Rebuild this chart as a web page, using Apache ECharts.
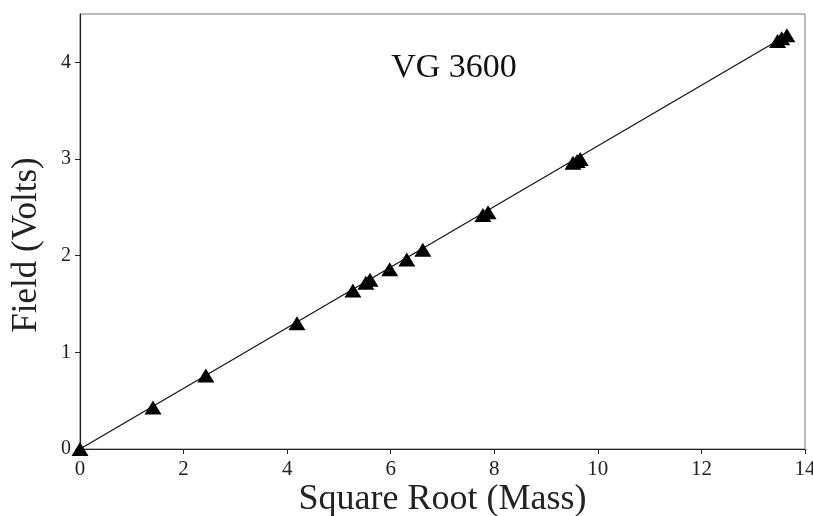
<!DOCTYPE html>
<html><head><meta charset="utf-8">
<script src="https://cdn.jsdelivr.net/npm/echarts@6/dist/echarts.min.js"></script>
<style>html,body{margin:0;padding:0;background:#fff}#c{width:813px;height:516px}</style>
</head><body><div id="c"></div>
<script>
// Measured points: square root of mass vs field (volts)
const sqrtMass = [0, 1.41, 2.43, 4.19, 5.27, 5.52, 5.60, 5.98, 6.31, 6.62, 7.78, 7.88, 9.52, 9.60, 9.66, 13.47, 13.55, 13.65];
const fieldVolts = [0, 0.43, 0.76, 1.30, 1.64, 1.72, 1.75, 1.86, 1.96, 2.06, 2.42, 2.45, 2.96, 2.98, 3.00, 4.22, 4.25, 4.28];
// Fitted calibration line end points
const fitX = [0, 13.65];
const fitY = [0, 4.28];
const xTicks = [0, 2, 4, 6, 8, 10, 12, 14];
const yTicks = [0, 1, 2, 3, 4];
const titleText = 'VG 3600';
const xTitle = 'Square Root (Mass)';
const yTitle = 'Field (Volts)';

const pts = sqrtMass.map((x, i) => [x, fieldVolts[i]]);
const fit = fitX.map((x, i) => [x, fitY[i]]);
const serif = '"Liberation Serif", "DejaVu Serif", serif';
const chart = echarts.init(document.getElementById('c'));
chart.setOption({
  animation: false,
  backgroundColor: '#fff',
  grid: {left: 80, right: 8, top: 14, bottom: 67, show: true, borderColor: '#777', borderWidth: 1,
    containLabel: false, outerBoundsMode: 'none'},
  title: {text: titleText, left: 449, top: 46, textAlign: 'center',
    textStyle: {fontFamily: serif, fontSize: 34, fontWeight: 'normal', color: '#111'}},
  graphic: [{
    type: 'text', x: 27, y: 245, rotation: Math.PI / 2,
    style: {text: yTitle, font: '35px "Liberation Serif", serif', fill: '#222',
      textAlign: 'center', textVerticalAlign: 'middle'}
  }],
  xAxis: {
    type: 'value', min: 0, max: 14, interval: 2,
    name: xTitle, nameLocation: 'middle', nameGap: 33, nameMoveOverlap: false,
    nameTextStyle: {fontFamily: serif, fontSize: 36, color: '#222'},
    axisLine: {lineStyle: {color: '#222', width: 1.2}},
    axisTick: {show: true, length: 5, lineStyle: {color: '#222'}},
    axisLabel: {fontFamily: serif, fontSize: 21, color: '#222', margin: 10,
      formatter: v => xTicks.includes(v) ? String(v) : ''},
    splitLine: {show: false}
  },
  yAxis: {
    type: 'value', min: 0, max: 4.5, interval: 1,
    axisLine: {show: true, lineStyle: {color: '#222', width: 1.2}},
    axisTick: {show: true, length: 5, lineStyle: {color: '#222'}, customValues: yTicks},
    axisLabel: {fontFamily: serif, fontSize: 20, color: '#222', margin: 9,
      customValues: yTicks, formatter: v => String(v)},
    splitLine: {show: false}
  },
  series: [
    {type: 'line', data: fit, symbol: 'none', lineStyle: {color: '#111', width: 1.2}, z: 2},
    {type: 'scatter', data: pts, symbol: 'triangle', symbolSize: [17, 14],
      itemStyle: {color: '#000', opacity: 1}, z: 3}
  ]
});
</script></body></html>
